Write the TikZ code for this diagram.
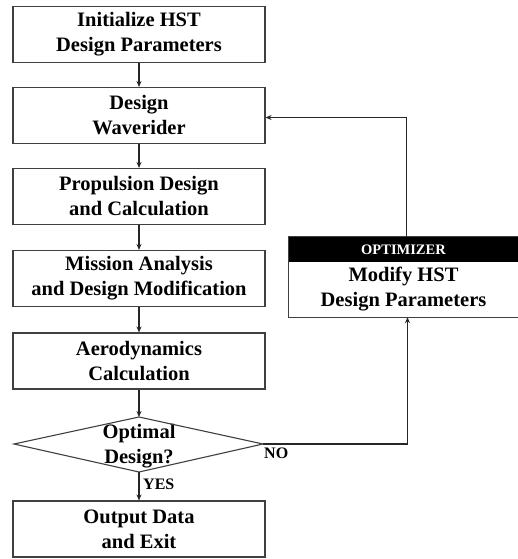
\documentclass[tikz,border=0pt]{standalone}
\usepackage{fontspec}
\setmainfont{Liberation Serif}[BoldFont={Liberation Serif Bold}]
\usetikzlibrary{arrows.meta}
\begin{document}
\begin{tikzpicture}[x=1pt,y=-1pt,
  boxstyle/.style={draw=black!75, line width=1.1pt, minimum width=252pt, minimum height=56pt,
    inner sep=0pt, align=center, font=\fontsize{20.5}{25}\selectfont\bfseries},
  txt/.style={inner sep=0pt, align=center, font=\fontsize{20.5}{25}\selectfont\bfseries},
  arr/.style={draw=black!85, line width=1.1pt, -{Stealth[length=6pt,width=5pt]}},
  lbl/.style={inner sep=0pt, font=\fontsize{16}{17}\selectfont\bfseries}
]
\useasboundingbox (0,0) rectangle (517,559);
\fill[white] (0,0) rectangle (517,559);

\node[boxstyle] (b1) at (139,34.5) {Initialize HST\\Design Parameters};
\node[boxstyle] (b2) at (139,115.5) {Design\\Waverider};
\node[boxstyle] (b3) at (139,196.5) {Propulsion Design\\and Calculation};
\node[boxstyle] (b4) at (139,278.5) {Mission Analysis\\and Design Modification};
\node[boxstyle] (b5) at (139,361) {Aerodynamics\\Calculation};
\node[txt] (dec) at (139,446) {Optimal\\Design?};
\coordinate (dT) at (139,417);
\coordinate (dB) at (139,472);
\coordinate (dL) at (14,444);
\coordinate (dR) at (263,444);
\draw[draw=black!75, line width=1.1pt] (dT) -- (dR) -- (dB) -- (dL) -- cycle;
\node[boxstyle] (b6) at (139,529) {Output Data\\and Exit};

% optimizer
\node[fill=black, minimum width=229pt, minimum height=25pt, inner sep=0pt,
  text=white, font=\fontsize{14.5}{15}\selectfont\bfseries] (hdr) at (403.5,249.5) {OPTIMIZER};
\node[txt, minimum width=229pt, minimum height=55pt] (body) at (403.5,289.5) {Modify HST\\Design Parameters};
\draw[draw=black!75, line width=1.1pt] (hdr.north east) -- (hdr.north west) -- (body.south west) -- (body.south east);

\draw[arr] (b1) -- (b2);
\draw[arr] (b2) -- (b3);
\draw[arr] (b3) -- (b4);
\draw[arr] (b4) -- (b5);
\draw[arr] (b5) -- (dT);
\draw[arr] (dB) -- (b6);
\draw[arr] ([xshift=3pt]hdr.north) |- ([yshift=-2pt]b2.east);
\draw[arr] (dR) -| ([xshift=4pt]body.south);

\node[lbl, anchor=west] (yes) at (143,484) {YES};
\node[lbl, anchor=north west] (no) at (264,448) {NO};
\end{tikzpicture}
\end{document}
